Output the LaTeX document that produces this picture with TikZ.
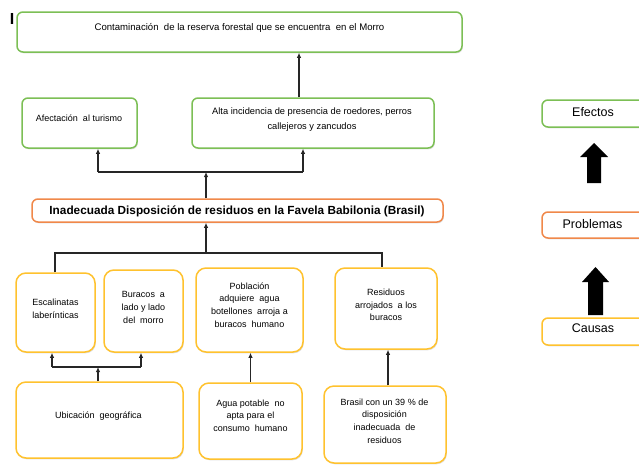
\documentclass[tikz,border=0pt]{standalone}
\usepackage{fontspec}
\setmainfont{Liberation Sans}
\usetikzlibrary{arrows.meta,shadows}
\definecolor{cgreen}{HTML}{7CBF55}
\definecolor{corange}{HTML}{F0884A}
\definecolor{cyellow}{HTML}{FFC22E}
\tikzset{
 box/.style={draw=#1, line width=1.5pt, fill=white, rounded corners=6pt, inner sep=0pt,
   drop shadow={shadow xshift=0.8pt,shadow yshift=-1.3pt,opacity=0.25}},
 ybox/.style={box=cyellow, rounded corners=10pt},
 txt/.style={font=\fontsize{9}{12.7}\selectfont, align=center, inner sep=0pt},
 btxt/.style={font=\fontsize{11.8}{13}\selectfont\bfseries, align=center, inner sep=0pt},
 rtxt/.style={font=\fontsize{12.5}{14}\selectfont, align=center, inner sep=0pt},
 conn/.style={line width=1.3pt, draw=black!85},
 arr/.style={conn, -{Latex[length=5pt,width=4.5pt]}},
}
\begin{document}
\begin{tikzpicture}[x=1pt,y=-1pt]
\useasboundingbox (0,0) rectangle (639,464);
% boxes
\node[box=cgreen, minimum width=445pt, minimum height=40pt] (top) at (239.5,32) {};
\node[box=cgreen, minimum width=115pt, minimum height=50pt] (afect) at (79.5,123) {};
\node[box=cgreen, minimum width=242pt, minimum height=50pt] (alta) at (313,123) {};
\node[box=corange, minimum width=411pt, minimum height=23pt] (inad) at (237.5,210.5) {};
\node[ybox, minimum width=79pt, minimum height=79pt] (esc) at (55.5,312.5) {};
\node[ybox, minimum width=79pt, minimum height=82pt] (bur) at (143.5,311) {};
\node[ybox, minimum width=107pt, minimum height=84pt] (pobl) at (249.5,310) {};
\node[ybox, minimum width=102pt, minimum height=81pt] (resid) at (386,308.5) {};
\node[ybox, minimum width=167pt, minimum height=76pt] (ubic) at (99.5,420) {};
\node[ybox, minimum width=103pt, minimum height=76pt] (agua) at (250.5,421) {};
\node[ybox, minimum width=122pt, minimum height=77pt] (bras) at (385,424.5) {};
\node[box=cgreen, minimum width=108pt, minimum height=27pt] (efe) at (596,113.5) {};
\node[box=corange, minimum width=108pt, minimum height=26pt] (prob) at (596,225) {};
\node[box=cyellow, minimum width=108pt, minimum height=27pt] (caus) at (596,331.5) {};
% stray mark
\node[inner sep=0pt, font=\fontsize{16}{16}\selectfont\bfseries] (mark) at (12,19) {I};
% connectors
\draw[arr] ([xshift=-14pt]alta.north) -- ([xshift=-14pt]alta.north |- top.south);
\coordinate (j1) at (206,172);
\coordinate (j1l) at (98,172);
\coordinate (j1r) at (303,172);
\draw[arr] (inad.north -| j1) -- (j1);
\draw[conn] (j1l) -- (j1r);
\draw[arr] (j1l) -- (j1l |- afect.south);
\draw[arr] (j1r) -- (j1r |- alta.south);
\coordinate (j2) at (206,253);
\coordinate (j2l) at (55,253);
\coordinate (j2r) at (382,253);
\draw[arr] (j2) -- (j2 |- inad.south);
\draw[conn] (j2l |- esc.north) -- (j2l) -- (j2r) -- (j2r |- resid.north);
\coordinate (j3) at (98,367);
\coordinate (j3l) at (52,367);
\coordinate (j3r) at (141,367);
\draw[arr] (ubic.north -| j3) -- (j3);
\draw[conn] (j3l) -- (j3r);
\draw[arr] (j3l) -- (j3l |- esc.south);
\draw[arr] (j3r) -- (j3r |- bur.south);
\draw[arr] (agua.north) -- (agua.north |- pobl.south);
\draw[arr] ([xshift=3pt]bras.north) -- ([xshift=3pt]bras.north |- resid.south);
% big arrows
\fill[black] (594,143) -- (608,157) -- (601,157) -- (601,183) -- (587,183) -- (587,157) -- (580,157) -- cycle;
\fill[black] (595.5,267) -- (609,282) -- (603,282) -- (603,315) -- (588,315) -- (588,282) -- (582,282) -- cycle;
% texts
\node[txt, font=\fontsize{9.6}{12.7}\selectfont] (topt) at (239.5,28) {Contaminación\ \ de la reserva forestal que se encuentra\ \ en el Morro};
\node[txt] (afectt) at (79,118) {Afectación\ \ al turismo};
\node[txt, font=\fontsize{9.3}{15}\selectfont] (altat) at (312,119.5) {Alta incidencia de presencia de roedores, perros\\callejeros y zancudos};
\node[btxt] (inadt) at (237,211) {Inadecuada Disposición de residuos en la Favela Babilonia (Brasil)};
\node[txt] (esct) at (55.5,309) {Escalinatas\\laberínticas};
\node[txt] (burt) at (143.5,307.5) {Buracos\ \ a\\lado y lado\\del\ \ morro};
\node[txt] (poblt) at (249.5,305) {Población\\adquiere\ \ agua\\botellones\ \ arroja a\\buracos\ \ humano};
\node[txt] (residt) at (386,305) {Residuos\\arrojados\ \ a los\\buracos};
\node[txt] (ubict) at (98.5,416) {Ubicación\ \ geográfica};
\node[txt] (aguat) at (250.5,415.5) {Agua potable\ \ no\\apta para el\\consumo\ \ humano};
\node[txt] (brast) at (384.5,421) {Brasil con un 39 \% de\\disposición\\inadecuada\ \ de\\residuos};
\node[rtxt] (efet) at (593,112) {Efectos};
\node[rtxt] (probt) at (592.5,224) {Problemas};
\node[rtxt] (caust) at (593,328) {Causas};
\end{tikzpicture}
\end{document}
